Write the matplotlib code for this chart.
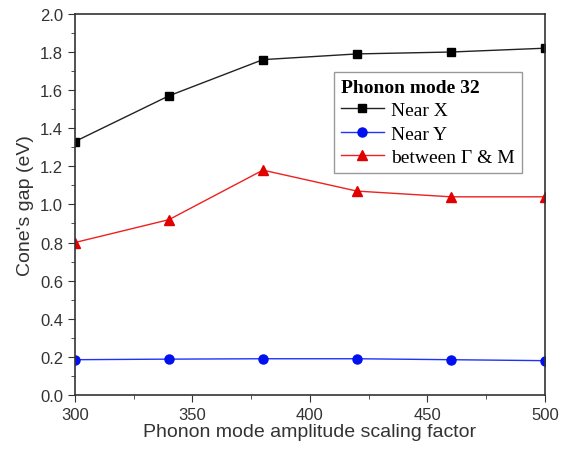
import matplotlib.pyplot as plt
from matplotlib.ticker import MultipleLocator

# data
scale = [300, 340, 380, 420, 460, 500]
near_x = [1.33, 1.57, 1.76, 1.79, 1.80, 1.82]
near_y = [0.185, 0.188, 0.19, 0.19, 0.185, 0.18]
gamma_m = [0.80, 0.92, 1.18, 1.07, 1.04, 1.04]

plt.rcParams['font.family'] = 'Liberation Sans'

fig = plt.figure(figsize=(5.63, 4.52), dpi=100)
ax = fig.add_axes([0.133, 0.124, 0.835, 0.843])

ax.plot(scale, near_x, color='#222222', lw=1, marker='s', ms=6, mfc='black', mec='black', label='Near X')
ax.plot(scale, near_y, color='#2030ff', lw=1, marker='o', ms=6.5, mfc='#0010ee', mec='#0010ee', label='Near Y')
ax.plot(scale, gamma_m, color='#ee2020', lw=1, marker='^', ms=7.5, mfc='#e00000', mec='#e00000', label='between Γ & M')

ax.set_xlim(300, 500)
ax.set_ylim(0, 2.0)
ax.xaxis.set_major_locator(MultipleLocator(50))
ax.xaxis.set_minor_locator(MultipleLocator(25))
ax.yaxis.set_major_locator(MultipleLocator(0.2))
ax.yaxis.set_minor_locator(MultipleLocator(0.1))
ax.yaxis.set_major_formatter(plt.FormatStrFormatter('%.1f'))
ax.tick_params(which='major', direction='out', length=5, labelsize=12, colors='#333333')
ax.tick_params(which='minor', direction='out', length=3, color='#333333')
for s in ax.spines.values():
    s.set_color('#333333')
    s.set_linewidth(1.2)

ax.set_xlabel('Phonon mode amplitude scaling factor', fontsize=14, color='#333333', labelpad=1)
ax.set_ylabel("Cone's gap (eV)", fontsize=14, color='#333333', labelpad=4)

leg = ax.legend(title='Phonon mode 32', loc='upper right', bbox_to_anchor=(0.951, 0.848),
                prop={'family': 'Liberation Serif', 'size': 14}, fancybox=False,
                edgecolor='#999999', framealpha=1, handlelength=2.2, borderpad=0.35,
                labelspacing=0.3, handletextpad=0.4, borderaxespad=0)
leg.get_title().set_fontproperties({'family': 'Liberation Serif', 'weight': 'bold', 'size': 14})
leg._legend_box.align = 'left'

fig.savefig('out.png', dpi=100)
